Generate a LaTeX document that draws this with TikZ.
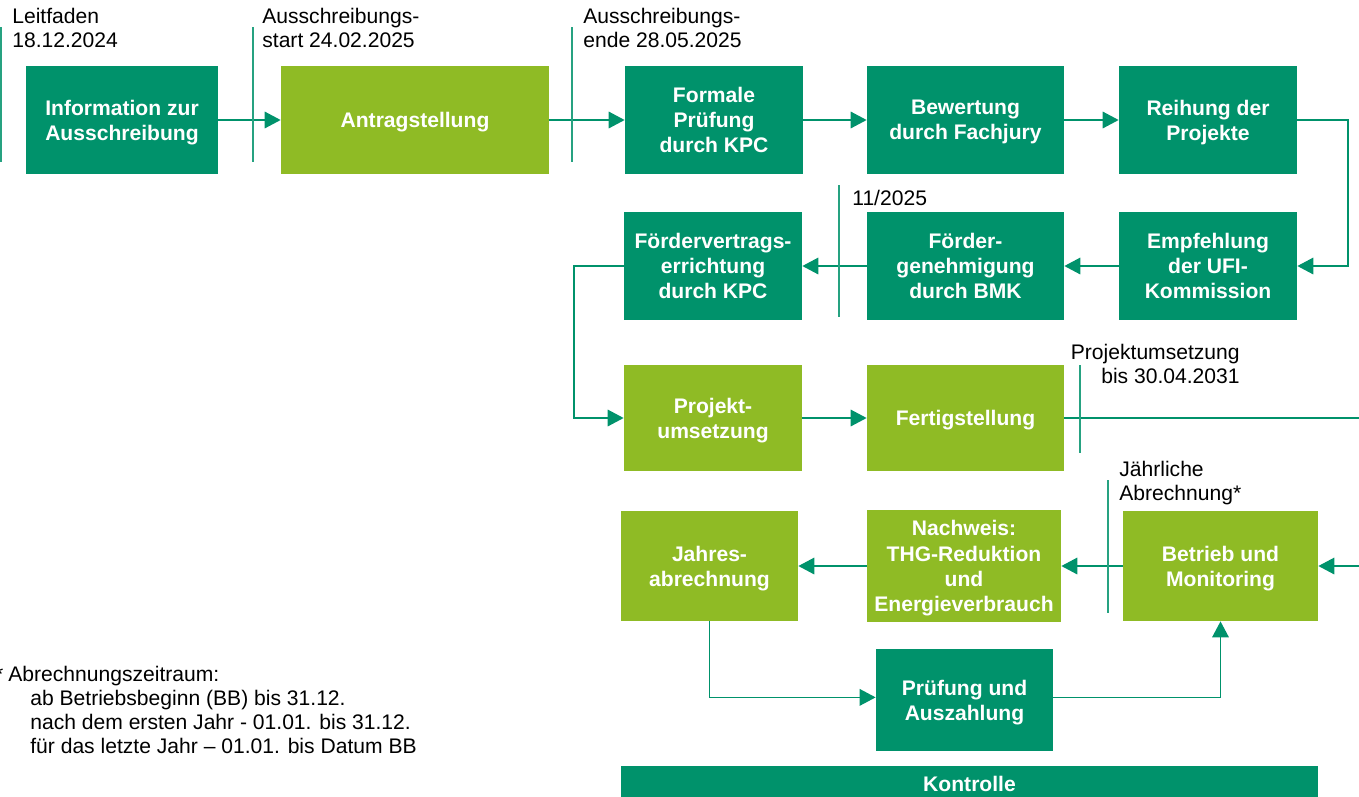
\documentclass[tikz,border=0pt]{standalone}
\usepackage{fontspec}
\setmainfont{Liberation Sans}
\usetikzlibrary{arrows.meta}
\definecolor{kpcdark}{RGB}{0,146,107}
\definecolor{kpclight}{RGB}{143,187,37}

\begin{document}
\begin{tikzpicture}[x=0.02cm,y=-0.02cm,
 stage/.style={inner sep=0pt, align=center, text=white, text depth=-1pt,
   font=\bfseries\fontsize{12}{14.4}\selectfont},
 darkstage/.style={stage, fill=kpcdark},
 lightstage/.style={stage, fill=kpclight},
 flow/.style={draw=kpcdark, line width=1pt, -{Triangle[length=3.2mm,width=3.3mm]}},
 milestone/.style={draw=kpcdark!85, line width=0.7pt},
 datelabel/.style={inner sep=0pt, align=left, font=\fontsize{12}{13.6}\selectfont}]
\useasboundingbox (0,0) rectangle (1359,796);

% first row
\node[darkstage, minimum width=3.84cm, minimum height=2.16cm] (info) at (122,120)
  {Information zur\\Ausschreibung};
\node[lightstage, minimum width=5.36cm, minimum height=2.16cm] (antrag) at (415,120)
  {Antragstellung};
\node[darkstage, minimum width=3.56cm, minimum height=2.16cm] (formal) at (714,120)
  {Formale\\Prüfung\\durch KPC};
\node[darkstage, minimum width=3.94cm, minimum height=2.16cm] (bewertung) at (965.5,120)
  {Bewertung\\durch Fachjury};
\node[darkstage, minimum width=3.56cm, minimum height=2.16cm] (reihung) at (1208,120)
  {Reihung der\\Projekte};

% second row
\node[darkstage, minimum width=3.56cm, minimum height=2.16cm] (empfehlung) at (1208,266)
  {Empfehlung\\der UFI-\\Kommission};
\node[darkstage, minimum width=3.94cm, minimum height=2.16cm] (genehmigung) at (965.5,266)
  {Förder-\\genehmigung\\durch BMK};
\node[darkstage, minimum width=3.56cm, minimum height=2.16cm] (vertrag) at (713,266)
  {Fördervertrags-\\errichtung\\durch KPC};

% third row
\node[lightstage, minimum width=3.56cm, minimum height=2.12cm] (umsetzung) at (713,418)
  {Projekt-\\umsetzung};
\node[lightstage, minimum width=3.94cm, minimum height=2.12cm] (fertig) at (965.5,418)
  {Fertigstellung};

% fourth row
\node[lightstage, minimum width=3.9cm, minimum height=2.2cm] (betrieb) at (1220.5,566)
  {Betrieb und\\Monitoring};
\node[lightstage, minimum width=3.88cm, minimum height=2.24cm] (nachweis) at (964,566)
  {Nachweis:\\THG-Reduktion\\und\\Energieverbrauch};
\node[lightstage, minimum width=3.54cm, minimum height=2.2cm] (jahres) at (709.5,566)
  {Jahres-\\abrechnung};
\node[darkstage, minimum width=3.54cm, minimum height=2.04cm] (auszahlung) at (964.5,700)
  {Prüfung und\\Auszahlung};
\node[darkstage, minimum width=13.94cm, minimum height=0.72cm] (kontrolle) at (969.5,784)
  {Kontrolle};

% connectors
\coordinate (offright) at (1385,418);
\draw[flow] (info) -- (antrag);
\draw[flow] (antrag) -- (formal);
\draw[flow] (formal) -- (bewertung);
\draw[flow] (bewertung) -- (reihung);
\draw[flow] (reihung.east) -- ++(51,0) |- (empfehlung.east);
\draw[flow] (empfehlung) -- (genehmigung);
\draw[flow] (genehmigung) -- (vertrag);
\draw[flow] (vertrag.west) -- ++(-50,0) |- (umsetzung.west);
\draw[flow] (umsetzung) -- (fertig);
\draw[flow] (fertig.east) -- (offright) |- (betrieb.east);
\draw[flow] (betrieb) -- (nachweis);
\draw[flow] (nachweis) -- (jahres);
\draw[flow] (jahres.south) |- ([yshift=1.5pt]auszahlung.west);
\draw[flow] ([yshift=1.5pt]auszahlung.east) -| (betrieb.south);

% milestones
\draw[milestone] (1,27) -- (1,162);
\draw[milestone] (253,27) -- (253,162);
\draw[milestone] (572,27) -- (572,162);
\draw[milestone] (839,185) -- (839,317);
\draw[milestone] (1080,365) -- (1080,453);
\draw[milestone] (1108,480) -- (1108,613);

\node[datelabel, anchor=north west] (leitfaden) at (12,8) {Leitfaden\\18.12.2024};
\node[datelabel, anchor=north west] (start) at (262,8) {Ausschreibungs-\\start 24.02.2025};
\node[datelabel, anchor=north west] (ende) at (583,8) {Ausschreibungs-\\ende 28.05.2025};
\node[datelabel, anchor=north west] (termin) at (852,190) {11/2025};
\node[datelabel, align=right, anchor=north east] (frist) at (1240,344)
  {Projektumsetzung\\bis 30.04.2031};
\node[datelabel, anchor=north west] (jaehrlich) at (1119,461) {Jährliche\\Abrechnung*};

% footnote
\node[datelabel, anchor=north west] (fussnote) at (8,666)
  {\llap{*\hspace{0.1cm}}Abrechnungszeitraum:\\
   \hspace*{0.44cm}ab Betriebsbeginn (BB) bis 31.12.\\
   \hspace*{0.44cm}nach dem ersten Jahr - 01.01. bis 31.12.\\
   \hspace*{0.44cm}für das letzte Jahr – 01.01. bis Datum BB};
\end{tikzpicture}
\end{document}
